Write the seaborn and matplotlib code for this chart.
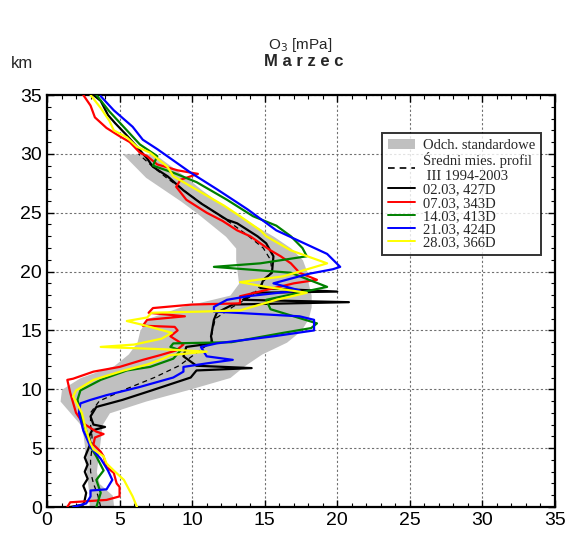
import matplotlib
matplotlib.use("Agg")
import matplotlib.pyplot as plt
import seaborn as sns
import numpy as np
from matplotlib.patches import Patch
from matplotlib.lines import Line2D
from matplotlib.ticker import MultipleLocator

# monthly mean profile and std band (III 1994-2003)
alt_levels = [0, 1, 2, 3, 4, 5, 6, 7, 8, 9, 10, 11, 12, 13, 14, 15, 16, 17, 18, 19,
              20, 21, 22, 23, 24, 25, 26, 27, 28, 29, 30]
band_left = [2.9, 2.9, 2.8, 2.7, 2.6, 2.6, 2.5, 2.3, 1.6, 0.9, 1.0, 2.3, 4.6, 5.6, 6.2, 6.4,
             6.9, 9.2, 12.6, 13.2, 13.1, 13.0, 13.0, 12.3, 11.3, 10.3, 9.2, 8.0, 6.8, 6.0, 5.2]
band_right = [4.6, 4.5, 3.6, 3.4, 3.5, 3.6, 3.7, 3.8, 4.3, 6.8, 9.8, 12.6, 13.6, 14.8, 16.5, 17.5,
              18.0, 18.2, 18.2, 18.0, 17.9, 17.6, 16.8, 15.6, 14.2, 12.9, 11.7, 10.6, 9.6, 8.5, 7.4]
mean_x = [3.7, 3.5, 3.2, 3.0, 3.0, 3.1, 3.1, 3.0, 3.0, 3.6, 5.4, 7.4, 9.1, 10.2, 11.3, 11.4,
          11.6, 12.8, 14.2, 14.8, 15.5, 15.4, 14.9, 13.9, 12.8, 11.6, 10.4, 9.3, 8.2, 7.2, 6.3]

# soundings (ozone partial pressure mPa, altitude km)
black_x = [1.6, 2.5, 2.6, 2.7, 2.5, 2.8, 2.6, 2.8, 2.6, 2.8, 3.0, 2.9, 3.1, 4.0, 3.2, 3.0, 3.4,
           5.2, 7.2, 9.9, 10.3, 14.1, 10.3, 9.4, 9.6, 11.4, 11.3, 11.5, 11.7, 12.8, 20.8, 13.5,
           14.2, 20.0, 14.7, 14.9, 15.5, 15.6, 15.1, 14.5, 13.1, 12.4, 10.6, 9.4, 8.3, 7.3, 6.9,
           6.2, 5.4, 4.7, 4.2, 3.7, 3.2]
black_y = [0.0, 0.2, 0.6, 1.2, 1.8, 2.4, 3.0, 3.6, 4.2, 4.8, 5.4, 6.0, 6.5, 6.8, 7.0, 7.7, 8.5,
           9.1, 9.9, 11.0, 11.6, 11.8, 12.0, 12.8, 13.6, 13.9, 14.5, 15.9, 16.5, 17.2, 17.4, 17.6,
           18.2, 18.3, 18.6, 19.3, 19.9, 21.3, 22.4, 23.0, 24.1, 24.4, 25.8, 26.9, 28.1, 28.9, 29.6,
           30.6, 31.7, 32.6, 33.3, 34.5, 35.0]

red_x = [1.4, 1.6, 4.1, 5.0, 5.0, 4.8, 4.6, 4.1, 3.9, 3.7, 3.2, 3.3, 3.9, 3.4, 2.5, 2.0, 1.6,
         1.4, 1.8, 3.2, 5.0, 6.6, 7.8, 8.9, 9.4, 8.5, 9.0, 8.8, 6.6, 6.9, 9.5, 7.0, 7.3, 10.0,
         13.3, 13.3, 17.0, 18.6, 17.4, 16.8, 16.1, 15.4, 14.0, 13.1, 12.1, 11.0, 9.6, 8.9, 9.2,
         10.4, 9.0, 7.6, 6.9, 6.4, 5.7, 5.0, 4.1, 3.3, 3.0, 2.5]
red_y = [0.0, 0.4, 0.6, 0.9, 1.7, 2.0, 2.9, 3.4, 4.3, 4.7, 5.3, 5.9, 6.2, 6.4, 7.1, 8.0, 9.7,
         10.8, 10.9, 11.5, 11.9, 12.5, 12.9, 13.3, 13.8, 14.5, 15.0, 15.3, 15.4, 15.9, 16.2, 16.5,
         16.9, 17.2, 17.3, 17.9, 19.0, 19.3, 19.9, 20.7, 21.3, 21.8, 23.0, 23.5, 24.3, 25.0, 26.1,
         27.2, 27.8, 28.3, 28.6, 29.1, 29.8, 30.1, 31.0, 31.5, 32.2, 33.1, 34.1, 35.0]

green_x = [3.4, 3.7, 3.4, 3.9, 3.4, 3.0, 2.7, 2.3, 2.1, 2.3, 3.7, 5.5, 7.1, 8.7, 9.2, 8.5, 8.7,
           12.7, 14.5, 16.3, 18.2, 18.6, 17.0, 15.4, 15.1, 19.3, 16.8, 11.5, 14.7, 17.9, 17.6,
           16.8, 15.8, 14.2, 12.4, 10.3, 8.7, 7.3, 7.6, 6.4, 5.5, 4.3, 3.4]
green_y = [0.0, 1.2, 2.3, 3.1, 4.3, 5.1, 6.5, 8.0, 9.1, 9.9, 10.8, 11.6, 11.9, 12.6, 13.3, 13.6,
           13.9, 14.0, 14.4, 14.8, 15.2, 15.6, 16.2, 16.8, 17.6, 18.7, 19.9, 20.4, 20.7, 21.3, 22.0,
           23.0, 23.9, 24.7, 26.1, 27.6, 28.4, 29.0, 29.8, 30.8, 32.0, 33.6, 35.0]

blue_x = [1.8, 2.7, 3.0, 3.0, 4.1, 4.5, 4.2, 3.7, 3.0, 2.5, 2.2, 2.3, 3.0, 4.1, 6.4, 8.7, 9.4,
          9.4, 11.0, 12.8, 11.0, 10.6, 11.7, 15.6, 18.4, 18.4, 17.4, 11.5, 11.5, 12.4, 13.8, 17.4,
          15.6, 18.0, 19.7, 20.2, 19.3, 17.2, 15.8, 13.8, 11.7, 9.9, 7.6, 6.6, 5.9, 4.6, 3.7]
blue_y = [0.0, 0.3, 0.9, 1.4, 1.5, 2.3, 3.1, 4.1, 5.1, 6.5, 8.0, 8.8, 9.1, 9.5, 10.2, 11.0, 11.5,
          11.9, 12.2, 12.5, 12.8, 13.6, 13.9, 14.5, 15.0, 15.9, 16.2, 16.6, 17.0, 17.6, 17.9, 18.4,
          19.0, 19.8, 20.2, 20.4, 21.5, 22.7, 23.5, 25.3, 27.0, 28.4, 30.4, 31.2, 32.3, 33.7, 34.9]

yellow_x = [6.2, 5.9, 5.3, 4.6, 4.1, 3.9, 3.2, 3.0, 2.7, 2.4, 1.8, 2.0, 3.2, 5.3, 6.9, 8.0, 8.5,
            11.0, 8.0, 3.7, 6.0, 7.9, 8.6, 6.5, 5.5, 6.9, 7.2, 10.6, 13.3, 15.8, 17.9, 15.1, 13.3,
            16.3, 19.3, 16.8, 15.1, 14.7, 13.3, 12.2, 10.8, 9.4, 8.7, 8.3, 7.1, 6.2, 5.5, 4.6, 4.3,
            3.7, 3.0]
yellow_y = [0.0, 0.9, 2.3, 3.1, 3.7, 4.3, 4.9, 5.4, 6.5, 8.0, 9.4, 9.9, 10.8, 11.6, 12.1, 12.6,
            12.9, 13.2, 13.4, 13.6, 13.8, 14.3, 14.8, 15.5, 15.8, 16.1, 16.5, 16.6, 16.7, 17.6,
            18.2, 18.7, 19.1, 19.6, 20.7, 21.8, 23.0, 23.5, 24.7, 25.6, 26.6, 27.6, 28.1, 28.9,
            30.1, 30.6, 31.4, 32.0, 32.8, 33.9, 35.0]

labels = ["02.03, 427D", "07.03, 343D", "14.03, 413D", "21.03, 424D", "28.03, 366D"]
colors = ["black", "#ff0000", "#008000", "#0000ff", "#ffff00"]

sns.set_theme(style="white")
plt.rcParams["font.family"] = ["Liberation Sans", "DejaVu Sans"]

fig = plt.figure(figsize=(5.74, 5.40), dpi=100)
ax = fig.add_axes([47 / 574, 33 / 540, 508 / 574, 412 / 540])

lo = np.array(band_left)
hi = np.array(band_right)
ax.fill_betweenx(alt_levels, lo, hi, color="#c0c0c0", lw=0, zorder=1)
sns.lineplot(x=mean_x, y=alt_levels, sort=False, estimator=None, color="black",
             lw=0.9, linestyle=(0, (4, 3)), ax=ax, zorder=2)

series = [(black_x, black_y), (red_x, red_y), (green_x, green_y),
          (blue_x, blue_y), (yellow_x, yellow_y)]
for (xs, ys), c in zip(series, colors):
    sns.lineplot(x=xs, y=ys, sort=False, estimator=None, color=c, lw=1.6, ax=ax, zorder=3)

ax.set_xlim(0, 35)
ax.set_ylim(0, 35)
ax.xaxis.set_major_locator(MultipleLocator(5))
ax.yaxis.set_major_locator(MultipleLocator(5))
ax.xaxis.set_minor_locator(MultipleLocator(1))
ax.yaxis.set_minor_locator(MultipleLocator(1))
ax.tick_params(which="both", direction="in", top=True, right=True, bottom=True, left=True,
               labelsize=14, colors="black")
ax.tick_params(which="major", length=5, width=1)
ax.tick_params(which="minor", length=3, width=0.8)
ax.grid(True, which="major", linestyle=(0, (2, 2)), color="#707070", lw=0.8)
for s in ax.spines.values():
    s.set_color("black")
    s.set_linewidth(1.6)
ax.set_xlabel("")
ax.set_ylabel("")

fig.text(0.523, 1 - 45 / 540, "O$_3$ [mPa]", ha="center", va="center", fontsize=11)
fig.text(0.530, 1 - 61 / 540, "M a r z e c", ha="center", va="center", fontsize=12,
         fontweight="bold")
fig.text(22 / 574, 1 - 63 / 540, "km", ha="center", va="center", fontsize=12)

handles = [Patch(facecolor="#c0c0c0", edgecolor="none"),
           Line2D([], [], color="black", lw=1.2, linestyle=(0, (4, 3)))]
handles += [Line2D([], [], color=c, lw=1.4) for c in colors]
leg_labels = ["Odch. standardowe", "Średni mies. profil\n III 1994-2003"] + labels
leg = ax.legend(handles, leg_labels, loc="upper right",
                bbox_to_anchor=(548 / 574, 1 - 126 / 540), bbox_transform=fig.transFigure,
                prop={"family": "Liberation Serif", "size": 10.5}, frameon=True, fancybox=False,
                handlelength=1.9, handletextpad=0.5, labelspacing=0.0, borderpad=0.4)
leg.get_frame().set_edgecolor("black")
leg.get_frame().set_linewidth(1.4)

fig.savefig("out.png", dpi=100)
